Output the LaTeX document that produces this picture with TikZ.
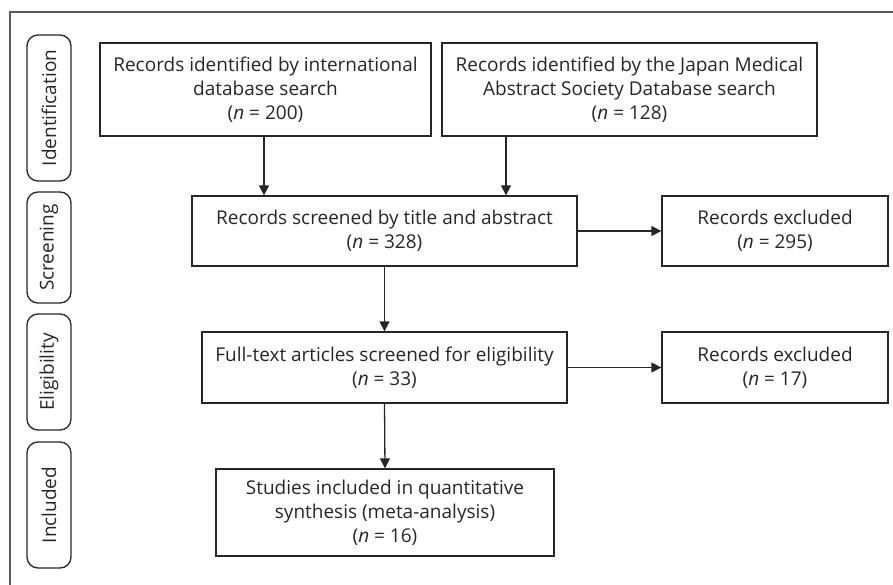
\documentclass[tikz,border=0pt]{standalone}
\usepackage{fontspec}
\setmainfont{Open Sans}
\usetikzlibrary{arrows.meta}
\tikzset{
  box/.style={draw=black!85, line width=1.3pt, rectangle, align=center, inner sep=0pt,
    text=black!85, font=\fontsize{19}{24}\selectfont},
  side/.style={draw=black!85, line width=1.3pt, rectangle, rounded corners=11pt, inner sep=0pt,
    text=black!85, minimum width=44pt, font=\fontsize{19}{20}\selectfont},
  arr/.style={draw=black!85, line width=1.3pt, -{Triangle[length=10pt,width=10pt]}},
  frame/.style={draw=black!65, line width=1.5pt}
}
\begin{document}
\begin{tikzpicture}[x=1pt,y=-1pt]
\useasboundingbox (0,0) rectangle (893,585);
\coordinate (fbl) at (10,585);
\coordinate (ftl) at (10,12);
\coordinate (ftr) at (893,12);
\draw[frame] (fbl) -- (ftl) -- (ftr);

\node[side, minimum height=146pt] (sid) at (49,108) {\rotatebox{90}{Identification}};
\node[side, minimum height=111pt] (ssc) at (49,247.5) {\rotatebox{90}{Screening}};
\node[side, minimum height=116pt] (sel) at (49,372) {\rotatebox{90}{Eligibility}};
\node[side, minimum height=126pt] (sin) at (49,505) {\rotatebox{90}{Included}};

\node[box, minimum width=331pt, minimum height=93pt] (A) at (265.5,89.5)
  {Records identified by international\\database search\\(\textit{n} = 200)};
\node[box, minimum width=375pt, minimum height=93pt] (B) at (629.5,89.5)
  {Records identified by the Japan Medical\\Abstract Society Database search\\(\textit{n} = 128)};
\node[box, minimum width=385pt, minimum height=70pt] (S) at (384.5,231)
  {Records screened by title and abstract\\(\textit{n} = 328)};
\node[box, minimum width=226pt, minimum height=70pt] (X1) at (775,231)
  {Records excluded\\(\textit{n} = 295)};
\node[box, minimum width=365pt, minimum height=71pt] (E) at (384.5,367.5)
  {Full-text articles screened for eligibility\\(\textit{n} = 33)};
\node[box, minimum width=226pt, minimum height=71pt] (X2) at (775,367.5)
  {Records excluded\\(\textit{n} = 17)};
\node[box, minimum width=338pt, minimum height=87pt] (I) at (385,512.5)
  {Studies included in quantitative\\synthesis (meta-analysis)\\(\textit{n} = 16)};

\coordinate (ax) at (264,0);
\coordinate (bx) at (506,0);
\draw[arr] (A.south -| ax) -- (S.north -| ax);
\draw[arr] (B.south -| bx) -- (S.north -| bx);
\draw[arr] (S.east) -- (X1.west);
\draw[arr] (S.south) -- (E.north);
\draw[arr] (E.east) -- (X2.west);
\draw[arr] (E.south) -- (I.north);
\end{tikzpicture}
\end{document}
